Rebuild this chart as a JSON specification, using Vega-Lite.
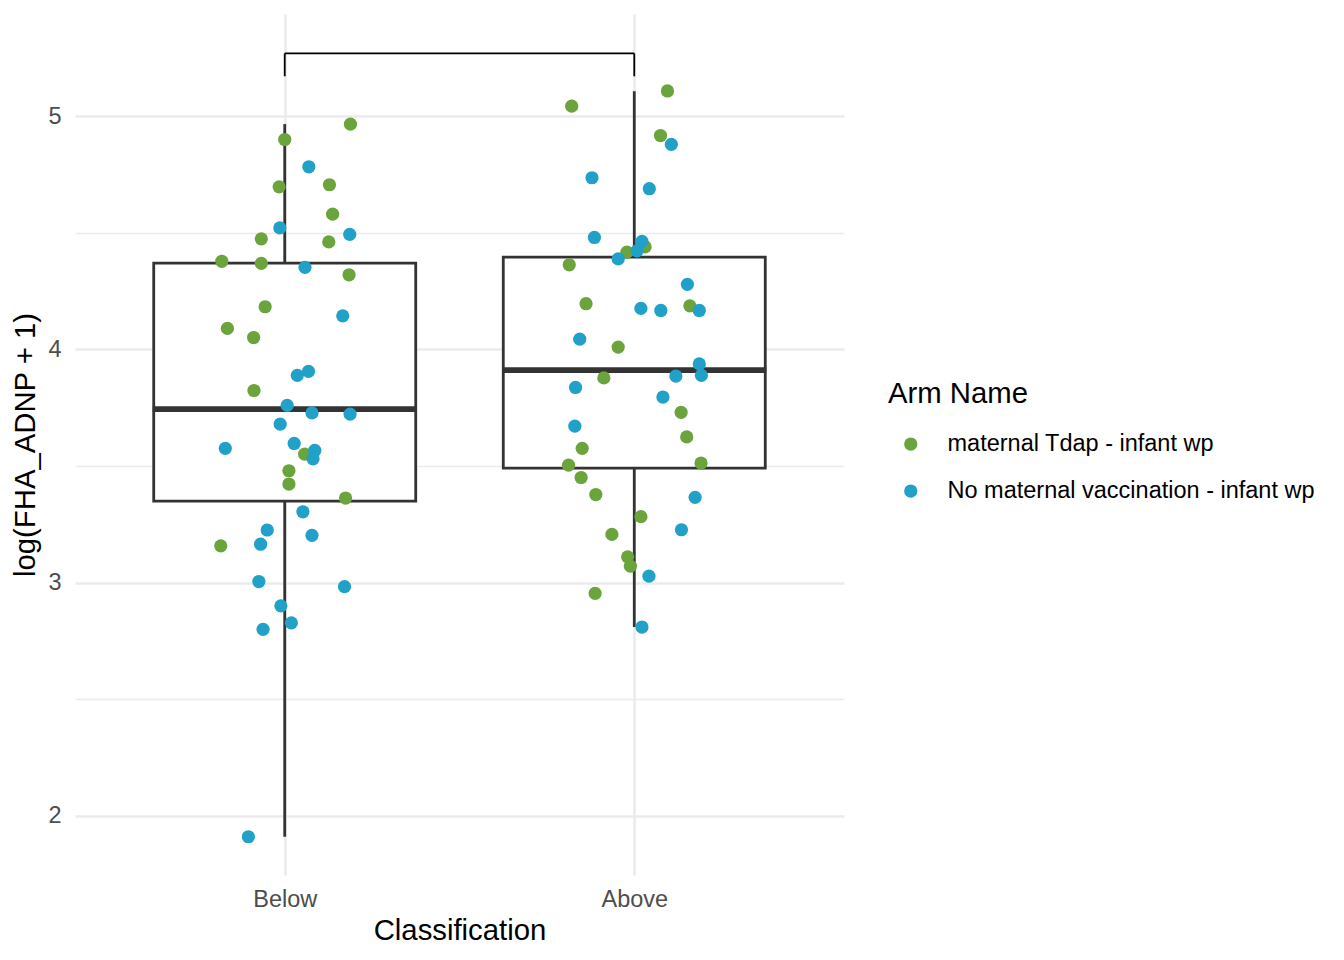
{
  "$schema": "https://vega.github.io/schema/vega-lite/v6.json",
  "width": 769,
  "height": 861,
  "autosize": {"type": "none"},
  "padding": {"left": 75, "top": 14, "right": 500, "bottom": 85},
  "background": "white",
  "config": {"view": {"stroke": null}, "font": "Liberation Sans"},
  "datasets": {
    "boxes": [
      {"classification": "Below", "idx": 1, "lower": 1.911, "q1": 3.350, "median": 3.744, "q3": 4.370, "upper": 4.966},
      {"classification": "Above", "idx": 2, "lower": 2.810, "q1": 3.491, "median": 3.911, "q3": 4.396, "upper": 5.107}
    ],
    "bracketH": [{"x": 1, "x2": 2, "y": 5.269}],
    "bracketV": [{"x": 1, "y": 5.269, "y2": 5.171}, {"x": 2, "y": 5.269, "y2": 5.171}],
    "points": [
      {"classification": "Below", "arm": "maternal Tdap - infant wp", "x": 1.188, "value": 4.966},
      {"classification": "Below", "arm": "maternal Tdap - infant wp", "x": 1.000, "value": 4.900},
      {"classification": "Below", "arm": "maternal Tdap - infant wp", "x": 0.984, "value": 4.697},
      {"classification": "Below", "arm": "maternal Tdap - infant wp", "x": 1.128, "value": 4.706},
      {"classification": "Below", "arm": "maternal Tdap - infant wp", "x": 1.137, "value": 4.580},
      {"classification": "Below", "arm": "maternal Tdap - infant wp", "x": 0.933, "value": 4.474},
      {"classification": "Below", "arm": "maternal Tdap - infant wp", "x": 1.126, "value": 4.461},
      {"classification": "Below", "arm": "maternal Tdap - infant wp", "x": 0.820, "value": 4.378},
      {"classification": "Below", "arm": "maternal Tdap - infant wp", "x": 0.933, "value": 4.369},
      {"classification": "Below", "arm": "maternal Tdap - infant wp", "x": 1.184, "value": 4.320},
      {"classification": "Below", "arm": "maternal Tdap - infant wp", "x": 0.944, "value": 4.183},
      {"classification": "Below", "arm": "maternal Tdap - infant wp", "x": 0.836, "value": 4.090},
      {"classification": "Below", "arm": "maternal Tdap - infant wp", "x": 0.911, "value": 4.051},
      {"classification": "Below", "arm": "maternal Tdap - infant wp", "x": 0.912, "value": 3.824},
      {"classification": "Below", "arm": "maternal Tdap - infant wp", "x": 1.057, "value": 3.551},
      {"classification": "Below", "arm": "maternal Tdap - infant wp", "x": 1.012, "value": 3.480},
      {"classification": "Below", "arm": "maternal Tdap - infant wp", "x": 1.012, "value": 3.423},
      {"classification": "Below", "arm": "maternal Tdap - infant wp", "x": 1.174, "value": 3.363},
      {"classification": "Below", "arm": "maternal Tdap - infant wp", "x": 0.817, "value": 3.158},
      {"classification": "Below", "arm": "No maternal vaccination - infant wp", "x": 1.069, "value": 4.783},
      {"classification": "Below", "arm": "No maternal vaccination - infant wp", "x": 0.986, "value": 4.521},
      {"classification": "Below", "arm": "No maternal vaccination - infant wp", "x": 1.186, "value": 4.493},
      {"classification": "Below", "arm": "No maternal vaccination - infant wp", "x": 1.058, "value": 4.352},
      {"classification": "Below", "arm": "No maternal vaccination - infant wp", "x": 1.166, "value": 4.144},
      {"classification": "Below", "arm": "No maternal vaccination - infant wp", "x": 1.068, "value": 3.906},
      {"classification": "Below", "arm": "No maternal vaccination - infant wp", "x": 1.036, "value": 3.889},
      {"classification": "Below", "arm": "No maternal vaccination - infant wp", "x": 1.007, "value": 3.760},
      {"classification": "Below", "arm": "No maternal vaccination - infant wp", "x": 1.078, "value": 3.728},
      {"classification": "Below", "arm": "No maternal vaccination - infant wp", "x": 1.187, "value": 3.723},
      {"classification": "Below", "arm": "No maternal vaccination - infant wp", "x": 0.987, "value": 3.680},
      {"classification": "Below", "arm": "No maternal vaccination - infant wp", "x": 0.830, "value": 3.576},
      {"classification": "Below", "arm": "No maternal vaccination - infant wp", "x": 1.027, "value": 3.597},
      {"classification": "Below", "arm": "No maternal vaccination - infant wp", "x": 1.086, "value": 3.567},
      {"classification": "Below", "arm": "No maternal vaccination - infant wp", "x": 1.081, "value": 3.531},
      {"classification": "Below", "arm": "No maternal vaccination - infant wp", "x": 1.052, "value": 3.304},
      {"classification": "Below", "arm": "No maternal vaccination - infant wp", "x": 0.950, "value": 3.226},
      {"classification": "Below", "arm": "No maternal vaccination - infant wp", "x": 1.078, "value": 3.203},
      {"classification": "Below", "arm": "No maternal vaccination - infant wp", "x": 0.931, "value": 3.165},
      {"classification": "Below", "arm": "No maternal vaccination - infant wp", "x": 0.926, "value": 3.005},
      {"classification": "Below", "arm": "No maternal vaccination - infant wp", "x": 1.171, "value": 2.983},
      {"classification": "Below", "arm": "No maternal vaccination - infant wp", "x": 0.989, "value": 2.901},
      {"classification": "Below", "arm": "No maternal vaccination - infant wp", "x": 1.019, "value": 2.828},
      {"classification": "Below", "arm": "No maternal vaccination - infant wp", "x": 0.938, "value": 2.800},
      {"classification": "Below", "arm": "No maternal vaccination - infant wp", "x": 0.896, "value": 1.911},
      {"classification": "Above", "arm": "maternal Tdap - infant wp", "x": 2.095, "value": 5.108},
      {"classification": "Above", "arm": "maternal Tdap - infant wp", "x": 1.821, "value": 5.043},
      {"classification": "Above", "arm": "maternal Tdap - infant wp", "x": 2.075, "value": 4.917},
      {"classification": "Above", "arm": "maternal Tdap - infant wp", "x": 2.031, "value": 4.440},
      {"classification": "Above", "arm": "maternal Tdap - infant wp", "x": 1.979, "value": 4.417},
      {"classification": "Above", "arm": "maternal Tdap - infant wp", "x": 1.814, "value": 4.363},
      {"classification": "Above", "arm": "maternal Tdap - infant wp", "x": 1.862, "value": 4.196},
      {"classification": "Above", "arm": "maternal Tdap - infant wp", "x": 2.159, "value": 4.187},
      {"classification": "Above", "arm": "maternal Tdap - infant wp", "x": 1.954, "value": 4.010},
      {"classification": "Above", "arm": "maternal Tdap - infant wp", "x": 1.913, "value": 3.878},
      {"classification": "Above", "arm": "maternal Tdap - infant wp", "x": 2.134, "value": 3.730},
      {"classification": "Above", "arm": "maternal Tdap - infant wp", "x": 2.150, "value": 3.625},
      {"classification": "Above", "arm": "maternal Tdap - infant wp", "x": 1.851, "value": 3.576},
      {"classification": "Above", "arm": "maternal Tdap - infant wp", "x": 1.812, "value": 3.504},
      {"classification": "Above", "arm": "maternal Tdap - infant wp", "x": 2.191, "value": 3.513},
      {"classification": "Above", "arm": "maternal Tdap - infant wp", "x": 1.848, "value": 3.451},
      {"classification": "Above", "arm": "maternal Tdap - infant wp", "x": 1.890, "value": 3.378},
      {"classification": "Above", "arm": "maternal Tdap - infant wp", "x": 2.019, "value": 3.283},
      {"classification": "Above", "arm": "maternal Tdap - infant wp", "x": 1.936, "value": 3.207},
      {"classification": "Above", "arm": "maternal Tdap - infant wp", "x": 1.981, "value": 3.111},
      {"classification": "Above", "arm": "maternal Tdap - infant wp", "x": 1.989, "value": 3.071},
      {"classification": "Above", "arm": "maternal Tdap - infant wp", "x": 1.888, "value": 2.954},
      {"classification": "Above", "arm": "No maternal vaccination - infant wp", "x": 2.106, "value": 4.879},
      {"classification": "Above", "arm": "No maternal vaccination - infant wp", "x": 1.879, "value": 4.736},
      {"classification": "Above", "arm": "No maternal vaccination - infant wp", "x": 2.043, "value": 4.689},
      {"classification": "Above", "arm": "No maternal vaccination - infant wp", "x": 1.886, "value": 4.480},
      {"classification": "Above", "arm": "No maternal vaccination - infant wp", "x": 2.022, "value": 4.463},
      {"classification": "Above", "arm": "No maternal vaccination - infant wp", "x": 2.008, "value": 4.423},
      {"classification": "Above", "arm": "No maternal vaccination - infant wp", "x": 1.954, "value": 4.388},
      {"classification": "Above", "arm": "No maternal vaccination - infant wp", "x": 2.152, "value": 4.279},
      {"classification": "Above", "arm": "No maternal vaccination - infant wp", "x": 2.019, "value": 4.176},
      {"classification": "Above", "arm": "No maternal vaccination - infant wp", "x": 2.076, "value": 4.167},
      {"classification": "Above", "arm": "No maternal vaccination - infant wp", "x": 2.186, "value": 4.167},
      {"classification": "Above", "arm": "No maternal vaccination - infant wp", "x": 1.844, "value": 4.044},
      {"classification": "Above", "arm": "No maternal vaccination - infant wp", "x": 2.186, "value": 3.938},
      {"classification": "Above", "arm": "No maternal vaccination - infant wp", "x": 2.119, "value": 3.886},
      {"classification": "Above", "arm": "No maternal vaccination - infant wp", "x": 2.192, "value": 3.889},
      {"classification": "Above", "arm": "No maternal vaccination - infant wp", "x": 1.832, "value": 3.837},
      {"classification": "Above", "arm": "No maternal vaccination - infant wp", "x": 2.082, "value": 3.796},
      {"classification": "Above", "arm": "No maternal vaccination - infant wp", "x": 1.830, "value": 3.671},
      {"classification": "Above", "arm": "No maternal vaccination - infant wp", "x": 2.174, "value": 3.366},
      {"classification": "Above", "arm": "No maternal vaccination - infant wp", "x": 2.135, "value": 3.227},
      {"classification": "Above", "arm": "No maternal vaccination - infant wp", "x": 2.042, "value": 3.028},
      {"classification": "Above", "arm": "No maternal vaccination - infant wp", "x": 2.022, "value": 2.810}
    ]
  },
  "layer": [
    {
      "data": {"name": "boxes"},
      "mark": {"type": "rule", "color": "#333333", "strokeWidth": 2.8},
      "encoding": {
        "x": {
          "field": "idx", "type": "quantitative", "title": "Classification",
          "scale": {"domain": [0.4, 2.6], "nice": false, "zero": false, "padding": 0},
          "axis": {
            "values": [1, 2],
            "labelExpr": "datum.value === 1 ? 'Below' : 'Above'",
            "ticks": false, "domain": false, "grid": true,
            "gridColor": "#EBEBEB", "gridWidth": 2.6,
            "labelFontSize": 23.5, "labelColor": "#4D4D4D", "labelPadding": 12,
            "labelFont": "Liberation Sans",
            "titleFontSize": 29.3, "titleColor": "black", "titleFontWeight": "normal",
            "titleFont": "Liberation Sans", "titlePadding": 6
          }
        },
        "y": {
          "field": "lower", "type": "quantitative", "title": "log(FHA_ADNP + 1)",
          "scale": {"domain": [1.747, 5.438], "nice": false, "zero": false, "padding": 0},
          "axis": {
            "values": [2, 2.5, 3, 3.5, 4, 4.5, 5],
            "format": "~g",
            "labelExpr": "datum.value % 1 === 0 ? datum.label : ''",
            "ticks": false, "domain": false, "grid": true,
            "gridColor": "#EBEBEB",
            "gridWidth": {"condition": {"test": "datum.value % 1 !== 0", "value": 1.4}, "value": 2.6},
            "labelFontSize": 23.5, "labelColor": "#4D4D4D", "labelPadding": 14,
            "labelFont": "Liberation Sans",
            "titleFontSize": 29.3, "titleColor": "black", "titleFontWeight": "normal",
            "titleFont": "Liberation Sans", "titlePadding": 7
          }
        },
        "y2": {"field": "q1"}
      }
    },
    {
      "data": {"name": "boxes"},
      "mark": {"type": "rule", "color": "#333333", "strokeWidth": 2.8},
      "encoding": {
        "x": {"field": "idx", "type": "quantitative", "title": "Classification"},
        "y": {"field": "q3", "type": "quantitative", "title": "log(FHA_ADNP + 1)"},
        "y2": {"field": "upper"}
      }
    },
    {
      "data": {"name": "boxes"},
      "mark": {"type": "bar", "fill": "white", "stroke": "#333333", "strokeWidth": 2.8, "width": 262},
      "encoding": {
        "x": {"field": "idx", "type": "quantitative", "title": "Classification"},
        "y": {"field": "q1", "type": "quantitative", "title": "log(FHA_ADNP + 1)"},
        "y2": {"field": "q3"}
      }
    },
    {
      "data": {"name": "boxes"},
      "mark": {"type": "tick", "orient": "horizontal", "color": "#333333", "size": 264, "thickness": 5.7, "opacity": 1},
      "encoding": {
        "x": {"field": "idx", "type": "quantitative", "title": "Classification"},
        "y": {"field": "median", "type": "quantitative", "title": "log(FHA_ADNP + 1)"}
      }
    },
    {
      "data": {"name": "points"},
      "mark": {"type": "point", "shape": "circle", "filled": true, "size": 175, "opacity": 1, "strokeWidth": 0},
      "encoding": {
        "x": {"field": "x", "type": "quantitative", "title": "Classification"},
        "y": {"field": "value", "type": "quantitative", "title": "log(FHA_ADNP + 1)"},
        "color": {
          "field": "arm", "type": "nominal",
          "scale": {
            "domain": ["maternal Tdap - infant wp", "No maternal vaccination - infant wp"],
            "range": ["#6BA33C", "#21A0C8"]
          },
          "legend": {
            "title": "Arm Name", "orient": "none", "legendX": 813, "legendY": 366,
            "titleFontSize": 29.3, "titleFontWeight": "normal", "titleColor": "black",
            "titleFont": "Liberation Sans",
            "labelFontSize": 23.5, "labelColor": "black", "labelFont": "Liberation Sans",
            "labelLimit": 600,
            "symbolType": "circle", "symbolSize": 175, "symbolStrokeWidth": 0,
            "symbolOffset": 11, "labelOffset": 25,
            "rowPadding": 22, "titlePadding": 23
          }
        }
      }
    },
    {
      "data": {"name": "bracketH"},
      "mark": {"type": "rule", "color": "black", "strokeWidth": 1.8},
      "encoding": {
        "x": {"field": "x", "type": "quantitative", "title": "Classification"},
        "x2": {"field": "x2"},
        "y": {"field": "y", "type": "quantitative", "title": "log(FHA_ADNP + 1)"}
      }
    },
    {
      "data": {"name": "bracketV"},
      "mark": {"type": "rule", "color": "black", "strokeWidth": 1.8},
      "encoding": {
        "x": {"field": "x", "type": "quantitative", "title": "Classification"},
        "y": {"field": "y", "type": "quantitative", "title": "log(FHA_ADNP + 1)"},
        "y2": {"field": "y2"}
      }
    }
  ]
}
